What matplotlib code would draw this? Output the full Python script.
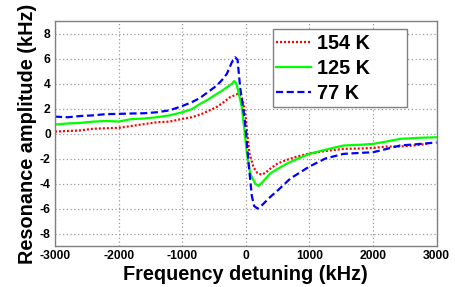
import matplotlib
matplotlib.use("Agg")
import matplotlib.pyplot as plt
from matplotlib.patches import Rectangle

# ---- data ----
x_154 = [-3000, -2800, -2600, -2400, -2200, -2000, -1800, -1600, -1400, -1200, -1000,
         -850, -700, -550, -450, -350, -250, -180, -116, -70, -37, 0, 16, 58, 120,
         180, 250, 320, 400, 500, 650, 800, 1000, 1250, 1535, 1800, 2000, 2200,
         2426, 2650, 2850]
y_154 = [0.15, 0.2, 0.25, 0.38, 0.42, 0.45, 0.6, 0.75, 0.9, 0.95, 1.17,
         1.3, 1.55, 1.9, 2.15, 2.5, 2.9, 3.05, 3.2, 3.0, 2.37, 1.2, 0.24, -1.6, -2.7,
         -3.15, -3.3, -3.1, -2.75, -2.4, -2.1, -1.85, -1.6, -1.4, -1.23, -1.2, -1.15, -1.05,
         -1.04, -0.95, -0.83]

x_125 = [-3000, -2800, -2600, -2400, -2200, -2000, -1800, -1600, -1400, -1200, -1000,
         -850, -720, -600, -456, -380, -299, -220, -184, -150, -116, -63, -22, 16, 68,
         146, 198, 277, 382, 500, 650, 800, 1000, 1250, 1535, 1800, 2000, 2200,
         2426, 2700, 3000]
y_125 = [0.72, 0.8, 0.85, 0.95, 1.0, 0.96, 1.15, 1.2, 1.3, 1.45, 1.7,
         1.95, 2.37, 2.7, 3.17, 3.4, 3.7, 3.97, 4.2, 4.0, 3.3, 2.1, 0.24, -1.6, -3.2,
         -4.0, -4.2, -3.8, -3.2, -2.83, -2.4, -2.05, -1.63, -1.3, -0.96, -0.9, -0.83, -0.65,
         -0.43, -0.35, -0.3]

x_77 = [-3000, -2800, -2600, -2400, -2200, -2000, -1800, -1600, -1400, -1200, -1000,
        -850, -719, -600, -456, -380, -299, -220, -168, -130, -90, -50, -20, 0, 40,
        94, 130, 182, 240, 300, 400, 500, 700, 1000, 1250, 1535, 1800, 2000, 2200,
        2426, 2700, 3000]
y_77 = [1.35, 1.3, 1.4, 1.45, 1.55, 1.57, 1.6, 1.62, 1.7, 1.85, 2.2,
        2.5, 2.85, 3.3, 3.84, 4.25, 4.77, 5.7, 6.1, 5.9, 3.7, 2.3, 1.2, 0.3, -2.2,
        -5.0, -5.8, -6.0, -5.8, -5.5, -5.0, -4.56, -3.6, -2.64, -2.0, -1.63, -1.55, -1.5, -1.25,
        -0.96, -0.85, -0.72]

labels = ["154 K", "125 K", "77 K"]
x_ticks = [-3000, -2000, -1000, 0, 1000, 2000, 3000]
y_ticks = [-8, -6, -4, -2, 0, 2, 4, 6, 8]

plt.rcParams['font.family'] = ['Liberation Sans', 'DejaVu Sans']

W, H = 455, 287
fig = plt.figure(figsize=(W / 100, H / 100), dpi=100)
ax = fig.add_axes([55 / W, 1 - 246 / H, (436.7 - 55) / W, (246 - 21) / H])

lw = 1.6
ax.plot(x_154, y_154, color='#ff0000', linestyle=(0, (0.9, 0.9)), linewidth=lw, label=labels[0])
ax.plot(x_125, y_125, color='#00ff00', linestyle='-', linewidth=lw, label=labels[1])
ax.plot(x_77, y_77, color='#0000ff', linestyle=(0, (3.2, 1.6)), linewidth=lw, label=labels[2])

ax.set_xlim(-3000, 3000)
ax.set_ylim(-9, 9)
ax.set_xticks(x_ticks)
ax.set_xticklabels([str(t) for t in x_ticks], fontsize=8.7, fontweight='bold')
ax.set_yticks(y_ticks)
ax.set_yticklabels([str(t) for t in y_ticks], fontsize=8.7, fontweight='bold')
ax.tick_params(direction='in', length=0, pad=3)
ax.grid(True, color='#999999', linestyle=(0, (1, 2)), linewidth=0.9)
for s in ax.spines.values():
    s.set_color('#808080')
    s.set_linewidth(1.0)

ax.set_xlabel('Frequency detuning (kHz)', fontsize=14.3, fontweight='bold', labelpad=2)
ax.set_ylabel('Resonance amplitude (kHz)', fontsize=14.3, fontweight='bold', labelpad=2)

# legend frame (MATLAB-like box with extra room on the right)
box = Rectangle((272.5 / W, 1 - 106.7 / H), (406.7 - 272.5) / W, (106.7 - 28.5) / H,
                transform=fig.transFigure, facecolor='white',
                edgecolor='#808080', linewidth=1.0, zorder=5)
ax.add_patch(box)
leg = ax.legend(loc='upper left', bbox_to_anchor=(276 / W, 1 - 34 / H),
                bbox_transform=fig.transFigure,
                prop={'size': 14.3, 'weight': 'bold'}, frameon=False,
                handlelength=1.75, handletextpad=0.3, labelspacing=0.31,
                borderpad=0.0, borderaxespad=0)
leg.set_zorder(6)

fig.savefig('out.png', dpi=100)
